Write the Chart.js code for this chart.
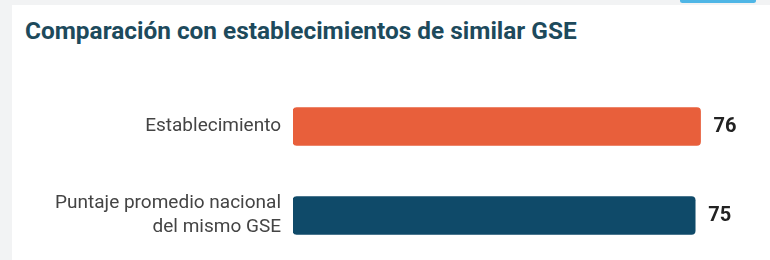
<!DOCTYPE html>
<html>
<head>
<meta charset="utf-8">
<script src="https://cdn.jsdelivr.net/npm/chart.js@4.4.1/dist/chart.umd.min.js"></script>
<style>
  html, body { margin: 0; padding: 0; }
  body { width: 770px; height: 260px; background: #f2f3f4; position: relative; overflow: hidden; font-family: Roboto, "Noto Sans", sans-serif; }
  #card { position: absolute; left: 12px; top: 5px; width: 770px; height: 270px; background: #fff; }
  #tab { position: absolute; left: 680px; top: -2px; width: 76px; height: 5px; background: #4fb6e6; border-radius: 3px; }
  #title { position: absolute; left: 25px; top: 17px; font-size: 24.4px; font-weight: 700; color: #1d4a5c; white-space: nowrap; line-height: 28px; }
  #barChart { position: absolute; left: 12px; top: 82px; }
</style>
</head>
<body>
<div id="card"></div>
<div id="tab"></div>
<div id="title">Comparación con establecimientos de similar GSE</div>
<canvas id="barChart" width="758" height="178"></canvas>
<script>
var categorias = [["Establecimiento"], ["Puntaje promedio nacional", "del mismo GSE"]];
var puntajes = [76, 75];
var colores = ["#e85f3b", "#0f4a69"];

// etiquetas de valor al final de cada barra
var valorPlugin = {
  id: 'valores',
  afterDatasetsDraw: function (chart) {
    var ctx = chart.ctx;
    var meta = chart.getDatasetMeta(0);
    ctx.save();
    ctx.font = "bold 20px Roboto, sans-serif";
    ctx.fillStyle = "#222";
    ctx.textAlign = "left";
    ctx.textBaseline = "middle";
    meta.data.forEach(function (bar, i) {
      ctx.fillText(puntajes[i], bar.x + 13, bar.y);
    });
    ctx.restore();
  }
};

var ctxB = document.getElementById("barChart").getContext('2d');
var miGrafico = new Chart(ctxB, {
  type: 'bar',
  data: {
    labels: categorias,
    datasets: [
      {
        data: puntajes,
        backgroundColor: colores,
        borderRadius: 4,
        borderSkipped: false,
        barThickness: 38
      }
    ]
  },
  options: {
    indexAxis: 'y',
    responsive: false,
    animation: false,
    layout: { padding: { left: 0, right: 48, top: 0, bottom: 0 } },
    plugins: {
      legend: { display: false },
      tooltip: { enabled: false }
    },
    scales: {
      x: { display: false, min: 0, max: 80 },
      y: {
        grid: { display: false, drawTicks: false },
        border: { display: false },
        ticks: {
          color: "#444",
          padding: 12,
          font: { family: "Roboto", size: 19, lineHeight: 1.25 }
        },
        afterFit: function (scale) {
          scale.width = 281;
          scale.paddingTop = 0;
          scale.paddingBottom = 0;
        }
      }
    }
  },
  plugins: [valorPlugin]
});
</script>
</body>
</html>
